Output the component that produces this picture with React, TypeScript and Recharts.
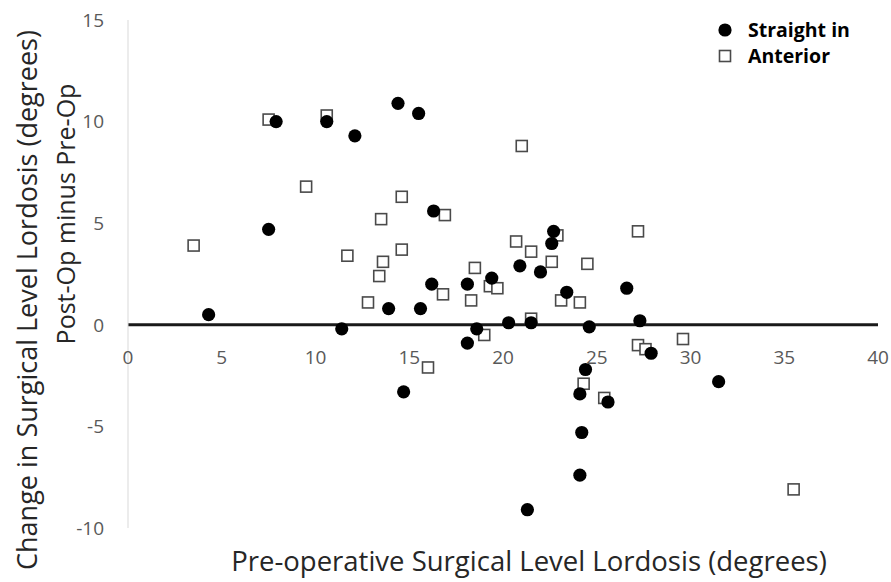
import { ReferenceLine, Scatter, ScatterChart, XAxis, YAxis } from "recharts";

// Pre-op lordosis (x) vs change in lordosis (y), degrees
const straightX = [4.3, 7.5, 7.9, 10.6, 12.1, 11.4, 13.9, 14.4, 14.7, 15.5, 15.6, 16.3, 16.2, 18.1, 18.1, 18.6, 19.4, 20.3, 20.9, 21.3, 21.5, 22.0, 22.7, 22.6, 23.4, 24.6, 24.4, 24.1, 24.2, 24.1, 25.6, 26.6, 27.3, 27.9, 31.5];
const straightY = [0.5, 4.7, 10.0, 10.0, 9.3, -0.2, 0.8, 10.9, -3.3, 10.4, 0.8, 5.6, 2.0, 2.0, -0.9, -0.2, 2.3, 0.1, 2.9, -9.1, 0.1, 2.6, 4.6, 4.0, 1.6, -0.1, -2.2, -3.4, -5.3, -7.4, -3.8, 1.8, 0.2, -1.4, -2.8];
const anteriorX = [3.5, 7.5, 10.6, 9.5, 11.7, 12.8, 13.4, 13.6, 13.5, 14.6, 14.6, 16.0, 16.8, 16.9, 18.3, 18.5, 19.0, 19.3, 19.7, 21.0, 20.7, 21.5, 21.5, 22.6, 22.9, 23.1, 24.5, 24.1, 24.3, 25.4, 27.2, 27.2, 27.6, 29.6, 35.5];
const anteriorY = [3.9, 10.1, 10.3, 6.8, 3.4, 1.1, 2.4, 3.1, 5.2, 6.3, 3.7, -2.1, 1.5, 5.4, 1.2, 2.8, -0.5, 1.9, 1.8, 8.8, 4.1, 3.6, 0.3, 3.1, 4.4, 1.2, 3.0, 1.1, -2.9, -3.6, 4.6, -1.0, -1.2, -0.7, -8.1];

const xTicks = [0, 5, 10, 15, 20, 25, 30, 35, 40];
const yTicks = [-10, -5, 0, 5, 10, 15];

const straightData = straightX.map((x, i) => ({ x, y: straightY[i] }));
const anteriorData = anteriorX.map((x, i) => ({ x, y: anteriorY[i] }));

const W = 891;
const H = 582;
const TOP = 20;
const BOTTOM = 54;
const PLOT_H = H - TOP - BOTTOM;
const Y_MIN = -10;
const Y_MAX = 15;
// the x axis labels sit under the zero line, not at the bottom of the plot
const ZERO_SHIFT = (PLOT_H * (0 - Y_MIN)) / (Y_MAX - Y_MIN);

const font = "'Open Sans', 'DejaVu Sans', sans-serif";
const tickGrey = "#595959";
const titleStyle = { position: "absolute" as const, fontFamily: font, fontSize: 27, color: "#262626", whiteSpace: "nowrap" as const };

const Dot = (props: any) => <circle cx={props.cx} cy={props.cy} r={6.6} fill="#000" />;
const Box = (props: any) => (
	<rect x={props.cx - 5.5} y={props.cy - 5.5} width={11} height={11} fill="#fff" stroke="#4a4a4a" strokeWidth={1.6} />
);

const XTick = (props: any) => (
	<text x={props.x} y={props.y - ZERO_SHIFT} dy={31} textAnchor="middle" fill={tickGrey} fontSize={19} fontFamily={font}>
		{props.payload.value}
	</text>
);

export default function App() {
	return (
		<div style={{ position: "absolute", left: 0, top: 0, width: W, height: H, background: "#fff" }}>
			<ScatterChart width={W} height={H} margin={{ top: TOP, right: 13, bottom: BOTTOM - 30, left: 0 }}>
				<XAxis
					type="number"
					dataKey="x"
					domain={[0, 40]}
					ticks={xTicks}
					axisLine={false}
					tickLine={false}
					height={30}
					tick={<XTick />}
				/>
				<YAxis
					type="number"
					dataKey="y"
					domain={[Y_MIN, Y_MAX]}
					ticks={yTicks}
					width={128}
					axisLine={{ stroke: "#d9d9d9" }}
					tickLine={false}
					tickMargin={18}
					tick={{ fill: tickGrey, fontSize: 19, fontFamily: font }}
				/>
				<ReferenceLine y={0} stroke="#1a1a1a" strokeWidth={3} />
				<Scatter name="Anterior" data={anteriorData} shape={<Box />} isAnimationActive={false} />
				<Scatter name="Straight in" data={straightData} shape={<Dot />} isAnimationActive={false} />
			</ScatterChart>
			<div style={{ position: "absolute", left: 717, top: 17, fontFamily: font, fontWeight: 700, fontSize: 19.5, color: "#000", lineHeight: "26px" }}>
				<div style={{ display: "flex", alignItems: "center" }}>
					<svg width={16} height={16} style={{ marginRight: 15 }}>
						<circle cx={8} cy={8} r={6.6} fill="#000" />
					</svg>
					Straight in
				</div>
				<div style={{ display: "flex", alignItems: "center" }}>
					<svg width={16} height={16} style={{ marginRight: 15 }}>
						<rect x={2.5} y={2.5} width={11} height={11} fill="#fff" stroke="#4a4a4a" strokeWidth={1.6} />
					</svg>
					Anterior
				</div>
			</div>
			<div style={{ ...titleStyle, fontSize: 27.5, left: 529, top: 560, transform: "translate(-50%, -50%)" }}>
				Pre-operative Surgical Level Lordosis (degrees)
			</div>
			<div style={{ ...titleStyle, left: 26, top: 300, transform: "translate(-50%, -50%) rotate(-90deg)" }}>
				Change in Surgical Level Lordosis (degrees)
			</div>
			<div style={{ ...titleStyle, fontSize: 25, left: 65, top: 214, transform: "translate(-50%, -50%) rotate(-90deg)" }}>
				Post-Op minus Pre-Op
			</div>
		</div>
	);
}
